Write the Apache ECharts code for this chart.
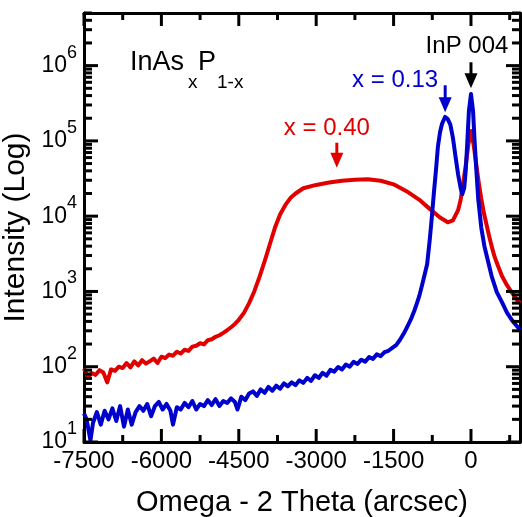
<!DOCTYPE html>
<html>
<head>
<meta charset="utf-8">
<script src="https://cdn.jsdelivr.net/npm/echarts@6/dist/echarts.min.js"></script>
<style>
  html, body { margin: 0; padding: 0; background: #fff; }
  #chart { width: 522px; height: 517px; }
</style>
</head>
<body>
<div id="chart"></div>
<script>
// XRD omega-2theta scans of two InAsP layers on InP (004 reflection)
const FONT = '"Liberation Sans", Arial, Helvetica, sans-serif';
const RED = '#e10000';
const BLUE = '#0000cd';

// axis ranges and ticks
const xMin = -7500, xMax = 950;
const yMin = 10, yMax = 5e6;
const xMajorTicks = [-7500, -6000, -4500, -3000, -1500, 0];
const xMinorTicks = [-6750, -5250, -3750, -2250, -750, 750];
const yDecades = [10, 100, 1e3, 1e4, 1e5, 1e6];

// x = 0.40 layer
const redAngle = [
  -7500, -7425, -7350, -7275, -7200, -7125, -7050, -6975, -6900, -6825,
  -6750, -6675, -6600, -6525, -6450, -6375, -6300, -6225, -6150, -6075,
  -6000, -5925, -5850, -5775, -5700, -5625, -5550, -5475, -5400, -5325,
  -5250, -5175, -5100, -5025, -4950, -4875, -4800, -4725, -4650, -4575,
  -4500, -4400, -4300, -4200, -4100, -4000, -3900, -3800, -3700, -3600,
  -3500, -3400, -3250, -3000, -2750,
  -2500, -2250, -2000, -1750, -1500, -1250, -1000, -800, -600, -450,
  -350, -250, -200, -150, -100, -50, 0, 50, 100, 150,
  200, 250, 300, 350, 400, 450, 500, 600, 700, 800,
  900, 950
];
const redCounts = [
  95, 72, 82, 78, 90, 84, 62, 92, 88, 100,
  96, 112, 98, 118, 104, 122, 110, 118, 128, 112,
  136, 130, 145, 140, 158, 150, 168, 162, 185, 190,
  205, 198, 225, 232, 250, 262, 282, 305, 335, 370,
  420, 520, 700, 1000, 1550, 2500, 4200, 7000, 10500, 14000,
  17400, 20000, 23500, 26000, 28000,
  29500, 30500, 31000, 29500, 26500, 21500, 16500, 12500, 9600, 8300,
  8800, 12000, 16500, 28000, 48000, 90000, 135000, 90000, 50000, 28000,
  17000, 11000, 7800, 5500, 4000, 3000, 2400, 1600, 1200, 950,
  760, 700
];

// x = 0.13 layer
const blueAngle = [
  -7500, -7450, -7400, -7375, -7325, -7250, -7175, -7100, -7025, -6950,
  -6875, -6800, -6725, -6650, -6575, -6500, -6425, -6350, -6275, -6200,
  -6125, -6050, -5975, -5900, -5825, -5775, -5700, -5625, -5550, -5475,
  -5400, -5325, -5250, -5175, -5100, -5025, -4950, -4875, -4800, -4725,
  -4650, -4575, -4525, -4450, -4375, -4300, -4225, -4150, -4075, -4000,
  -3925, -3850, -3775, -3700, -3625, -3550, -3475, -3400, -3325, -3250,
  -3175, -3100, -3025, -2950, -2875, -2800, -2725, -2650, -2575, -2500,
  -2425, -2350, -2275, -2200, -2125, -2050, -1975, -1900, -1825, -1750,
  -1675, -1600, -1525, -1450, -1375, -1300, -1225, -1150, -1100, -1050,
  -1000, -950, -900, -850, -800, -760, -720, -680, -640, -600,
  -560, -500, -450, -400, -350, -300, -250, -200, -170, -130,
  -100, -70, -40, 0, 40, 70, 100, 140, 200, 260,
  320, 400, 500, 600, 700, 800, 900, 950
];
const blueCounts = [
  24, 20, 13, 10.5, 18, 25, 17, 26, 20, 28,
  19, 30, 16, 27, 17, 25, 30, 26, 32, 22,
  30, 34, 27, 32, 26, 17, 29, 27, 33, 29,
  35, 27, 32, 30, 36, 31, 37, 30, 35, 33,
  38, 34, 27, 40, 36, 44, 47, 41, 50, 45,
  54, 48, 56, 51, 60, 55, 62, 57, 66, 61,
  71, 65, 77, 71, 83, 76, 91, 86, 99, 92,
  107, 100, 116, 109, 124, 117, 134, 127, 146, 138,
  156, 163, 178, 194, 228, 278, 350, 450, 550, 690,
  880, 1200, 1650, 2300, 4800, 9500, 20000, 40000, 85000, 130000,
  170000, 208000, 195000, 165000, 110000, 62000, 36000, 23500, 19500, 24000,
  42000, 100000, 250000, 420000, 250000, 100000, 45000, 17000, 7000, 4000,
  2700, 1600, 980, 720, 520, 410, 340, 310
];

// peak markers: arrow tip position and caption
const markerAngle = [-2600, -500, 0];
const markerCounts = [44000, 240000, 500000];
const markerText = ['x = 0.40', 'x = 0.13', 'InP 004'];
const markerStyle = [
  { color: RED,    len: 25, dx: -10, dy: -14,  align: 'center' },
  { color: BLUE,   len: 27, dx: -7,  dy: -4.5, align: 'right' },
  { color: '#000', len: 26, dx: -4,  dy: -16,  align: 'center' }
];

const zip = (a, b) => a.map((v, i) => [v, b[i]]);

// log minor ticks 2..9 within each decade
const yMinorTicks = [];
yDecades.forEach(d => {
  for (let k = 2; k <= 9; k++) {
    if (k * d <= yMax) yMinorTicks.push(k * d);
  }
});

function renderTicks(params, api) {
  const children = [];
  const seg = (x1, y1, x2, y2) => children.push({
    type: 'line', shape: { x1, y1, x2, y2 },
    style: { stroke: '#000', lineWidth: 3 }
  });
  const lb = api.coord([xMin, yMin]);
  const rt = api.coord([xMax, yMax]);
  const left = lb[0], bottom = lb[1], right = rt[0], top = rt[1];
  const xt = (v, len) => {
    const x = api.coord([v, yMin])[0];
    seg(x, bottom, x, bottom - len);
    seg(x, top, x, top + len);
  };
  const yt = (v, len) => {
    const y = api.coord([xMin, v])[1];
    seg(left, y, left + len, y);
    seg(right, y, right - len, y);
  };
  xMajorTicks.forEach(v => xt(v, 13));
  xMinorTicks.forEach(v => xt(v, 7));
  yDecades.forEach(v => yt(v, 14));
  yMinorTicks.forEach(v => yt(v, 8));
  return { type: 'group', children };
}

function renderMarker(params, api) {
  const i = params.dataIndex;
  const st = markerStyle[i];
  const p = api.coord([api.value(0), api.value(1)]);
  const x = p[0], tip = p[1], topY = tip - st.len;
  return {
    type: 'group',
    children: [
      { type: 'line', shape: { x1: x, y1: topY, x2: x, y2: tip - 12 },
        style: { stroke: st.color, lineWidth: 3 } },
      { type: 'polygon', shape: { points: [[x - 6.5, tip - 15], [x + 6.5, tip - 15], [x, tip]] },
        style: { fill: st.color } },
      { type: 'text',
        style: { text: markerText[i], x: x + st.dx, y: topY + st.dy, fill: st.color,
                 fontSize: 24, fontFamily: FONT, align: st.align, verticalAlign: 'middle' } }
    ]
  };
}

const frameLine = { show: true, onZero: false, lineStyle: { color: '#000', width: 3 } };

const chart = echarts.init(document.getElementById('chart'), null, { renderer: 'canvas' });
chart.setOption({
  animation: false,
  backgroundColor: '#fff',
  grid: { left: 84, right: 2, top: 13, bottom: 75, containLabel: false, outerBoundsMode: 'none' },
  xAxis: [
    {
      type: 'value', min: xMin, max: xMax, interval: 1500, position: 'bottom',
      axisLine: frameLine, axisTick: { show: false }, splitLine: { show: false },
      axisLabel: { color: '#000', fontSize: 24, fontFamily: FONT, margin: 7,
                   showMaxLabel: false, formatter: v => String(v) },
      name: 'Omega - 2 Theta (arcsec)', nameLocation: 'middle', nameGap: 46,
      nameTextStyle: { color: '#000', fontSize: 29, fontFamily: FONT }
    },
    {
      type: 'value', min: xMin, max: xMax, interval: 1500, position: 'top',
      axisLine: frameLine, axisTick: { show: false }, splitLine: { show: false },
      axisLabel: { show: false }
    }
  ],
  yAxis: [
    {
      type: 'log', logBase: 10, min: yMin, max: yMax, position: 'left',
      axisLine: frameLine, axisTick: { show: false }, splitLine: { show: false },
      minorTick: { show: false },
      axisLabel: {
        margin: 7,
        formatter: v => {
          const e = Math.log10(v);
          const n = Math.round(e);
          return Math.abs(e - n) < 1e-6 ? '{b|10}{s|' + n + '}' : '';
        },
        rich: {
          b: { color: '#000', fontSize: 23, fontFamily: FONT, lineHeight: 44 },
          s: { color: '#000', fontSize: 18, fontFamily: FONT, lineHeight: 18, verticalAlign: 'top' }
        }
      },
      name: 'Intensity (Log)', nameLocation: 'middle', nameGap: 44,
      nameTextStyle: { color: '#000', fontSize: 30, fontFamily: FONT }
    },
    {
      type: 'log', logBase: 10, min: yMin, max: yMax, position: 'right',
      axisLine: frameLine, axisTick: { show: false }, splitLine: { show: false },
      axisLabel: { show: false }
    }
  ],
  graphic: [
    { type: 'text', x: 130, y: 63, style: { text: 'InAs', fill: '#000', fontSize: 27, fontFamily: FONT, verticalAlign: 'middle' } },
    { type: 'text', x: 188, y: 83, style: { text: 'x', fill: '#000', fontSize: 19, fontFamily: FONT, verticalAlign: 'middle' } },
    { type: 'text', x: 198, y: 63, style: { text: 'P', fill: '#000', fontSize: 27, fontFamily: FONT, verticalAlign: 'middle' } },
    { type: 'text', x: 217, y: 83, style: { text: '1-x', fill: '#000', fontSize: 19, fontFamily: FONT, verticalAlign: 'middle' } }
  ],
  series: [
    {
      name: 'x = 0.40', type: 'line', data: zip(redAngle, redCounts),
      showSymbol: false, symbol: 'none', z: 2,
      lineStyle: { color: RED, width: 4, join: 'round' }
    },
    {
      name: 'x = 0.13', type: 'line', data: zip(blueAngle, blueCounts),
      showSymbol: false, symbol: 'none', z: 3,
      lineStyle: { color: BLUE, width: 4, join: 'round' }
    },
    {
      type: 'custom', renderItem: renderMarker, z: 5, clip: false,
      data: zip(markerAngle, markerCounts), encode: { x: 0, y: 1 }
    },
    {
      type: 'custom', renderItem: renderTicks, z: 6, clip: false, silent: true,
      data: [[xMin, yMin]], encode: { x: 0, y: 1 }
    }
  ]
});
</script>
</body>
</html>
